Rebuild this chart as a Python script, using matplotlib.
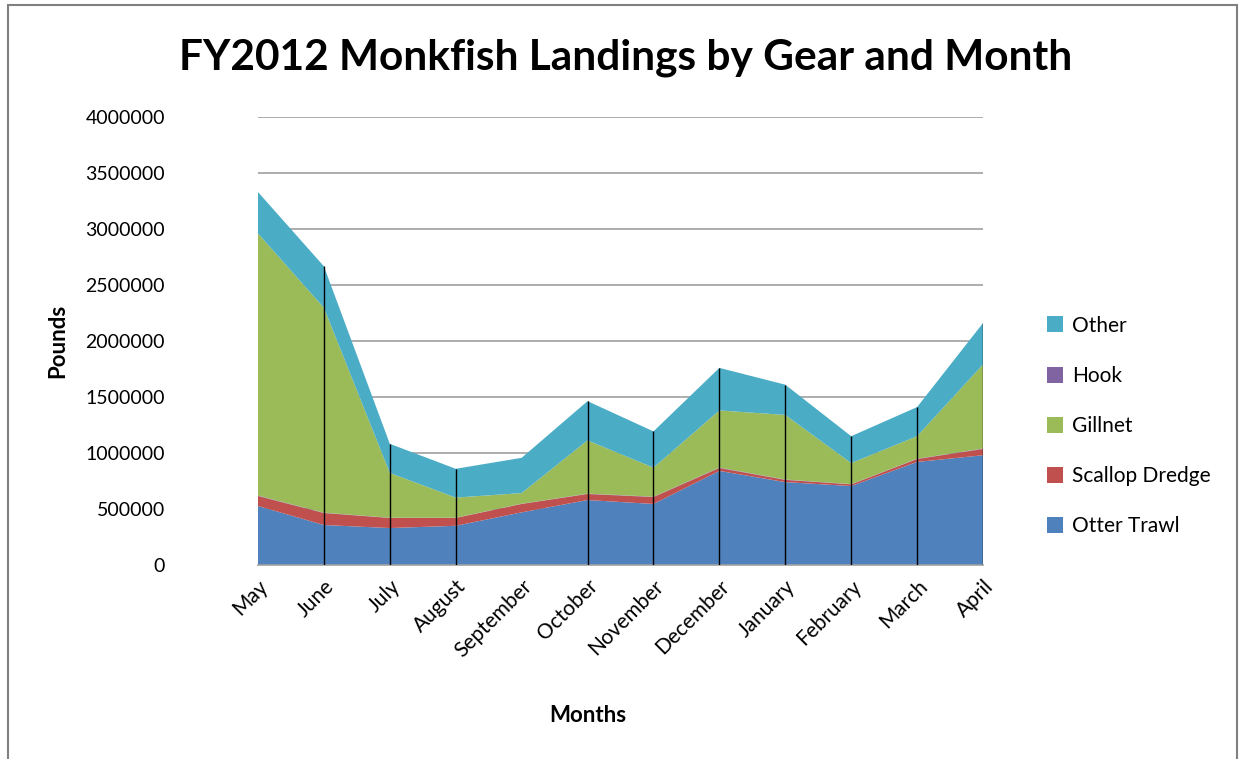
import numpy as np
import matplotlib.pyplot as plt
from matplotlib.patches import Rectangle, Patch

# datos (libras)
meses = ["May", "June", "July", "August", "September", "October", "November",
         "December", "January", "February", "March", "April"]
otter_trawl = [527000, 357000, 330000, 350000, 470000, 580000, 545000, 840000, 740000, 705000, 920000, 980000]
scallop_dredge = [89000, 107000, 90000, 70000, 75000, 54000, 62000, 26000, 20000, 15000, 26000, 56000]
hook = [4000, 3000, 2000, 2000, 2000, 3000, 3000, 4000, 3000, 2000, 3000, 4000]
gillnet = [2340000, 1830000, 400000, 180000, 95000, 476000, 259000, 510000, 577000, 188000, 201000, 750000]
other = [370000, 370000, 260000, 257000, 315000, 350000, 324000, 380000, 270000, 240000, 260000, 370000]
meses_con_linea = ["June", "July", "August", "October", "November", "December",
                   "January", "February", "March", "April"]

colores = ["#4F81BD", "#C0504D", "#8064A2", "#9BBB59", "#4BACC6"]
nombres = ["Otter Trawl", "Scallop Dredge", "Hook", "Gillnet", "Other"]

plt.rcParams['font.family'] = ['Lato', 'DejaVu Sans']

fig = plt.figure(figsize=(12.42, 7.59), dpi=100)
ax = fig.add_axes([258/1242, 1-565/759, (983-258)/1242, (565-117)/759])

x = np.arange(len(meses))
ax.stackplot(x, otter_trawl, scallop_dredge, hook, gillnet, other,
             colors=colores, linewidth=0)

# lineas verticales hasta el total
total = np.sum([otter_trawl, scallop_dredge, hook, gillnet, other], axis=0)
for i, m in enumerate(meses):
    if m in meses_con_linea:
        ax.vlines(i, 0, total[i], color="black", linewidth=1.0, zorder=3)

ax.set_xlim(0, len(meses) - 1)
ax.set_ylim(0, 4000000)
ax.set_yticks(np.arange(0, 4000001, 500000))
ax.set_yticklabels([str(v) for v in range(0, 4000001, 500000)], fontsize=14)
ax.yaxis.grid(True, color="#A0A0A0", linewidth=1.2)
ax.set_axisbelow(True)
for s in ["left", "right", "top"]:
    ax.spines[s].set_visible(False)
ax.spines["bottom"].set_color("#A0A0A0")
ax.spines["bottom"].set_linewidth(1.2)
ax.tick_params(axis="y", length=0, pad=67)
ax.tick_params(axis="x", length=0, pad=8)
ax.set_xticks(x)
ax.set_xticklabels(meses, rotation=45, ha="right", rotation_mode="anchor", fontsize=15)

ax.set_ylabel("Pounds", fontsize=16, fontweight="bold")
ax.yaxis.set_label_coords(-0.262, 0.5)
fig.text(588/1242, 1-715/759, "Months", fontsize=16, fontweight="bold", ha="center", va="center")
fig.text(626/1242, 1-58/759, "FY2012 Monkfish Landings by Gear and Month",
         fontsize=30.5, fontweight="bold", ha="center", va="center")

handles = [Patch(facecolor=colores[i], edgecolor="none") for i in [4, 2, 3, 1, 0]]
etiquetas = [nombres[i] for i in [4, 2, 3, 1, 0]]
fig.legend(handles, etiquetas, loc="center left", bbox_to_anchor=(1028/1242, 1-426/759),
           frameon=False, fontsize=15, handlelength=0.8, handleheight=0.8,
           labelspacing=1.45, handletextpad=0.4)

# marco exterior
fig.patches.append(Rectangle((8/1242, -0.01), (1237-8)/1242, 1-5/759 + 0.01,
                             transform=fig.transFigure, fill=False,
                             edgecolor="#808080", linewidth=1.5))

fig.savefig("out.png", dpi=100)
